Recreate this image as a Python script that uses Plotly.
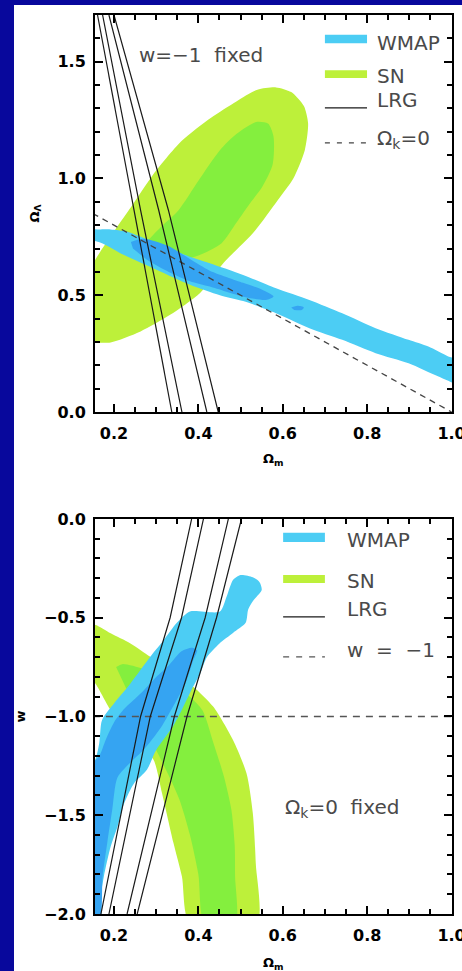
import plotly.graph_objects as go

# ---------------- top panel: Omega_m vs Omega_Lambda, w = -1 fixed ----------------
SN_OUT_TOP_OM = [0.14, 0.16, 0.192, 0.263, 0.333, 0.404, 0.459, 0.529, 0.588, 0.625, 0.652,
                 0.66, 0.65, 0.62, 0.584, 0.54, 0.49, 0.43, 0.36, 0.29, 0.245, 0.21, 0.18, 0.155, 0.14]
SN_OUT_TOP_OL = [0.33, 0.30, 0.298, 0.345, 0.416, 0.510, 0.637, 0.765, 0.907, 1.0, 1.12,
                 1.235, 1.31, 1.37, 1.39, 1.38, 1.33, 1.26, 1.16, 1.01, 0.89, 0.80, 0.72, 0.65, 0.59]

SN_IN_TOP_OM = [0.265, 0.275, 0.31, 0.353, 0.40, 0.451, 0.49, 0.537, 0.565, 0.578, 0.576,
                0.55, 0.525, 0.49, 0.455, 0.40, 0.33, 0.28]
SN_IN_TOP_OL = [0.66, 0.72, 0.79, 0.864, 0.99, 1.121, 1.19, 1.242, 1.235, 1.18, 1.06,
                0.96, 0.90, 0.81, 0.723, 0.67, 0.64, 0.64]

WMAP_OUT_TOP_OM = [0.14, 0.165, 0.192, 0.231, 0.302, 0.380, 0.427, 0.506, 0.584, 0.663, 0.741,
                   0.820, 0.898, 0.945, 0.992, 1.02,
                   1.02, 0.969, 0.898, 0.820, 0.741, 0.663, 0.584, 0.506, 0.451, 0.380,
                   0.302, 0.224, 0.173, 0.14]
WMAP_OUT_TOP_OL = [0.785, 0.782, 0.782, 0.772, 0.722, 0.665, 0.637, 0.587, 0.530, 0.480, 0.423,
                   0.359, 0.309, 0.280, 0.238, 0.22,
                   0.12, 0.152, 0.209, 0.252, 0.309, 0.359, 0.423, 0.475, 0.500, 0.545,
                   0.608, 0.672, 0.722, 0.74]

WMAP_IN_TOP_OM = [0.24, 0.27, 0.33, 0.38, 0.427, 0.506, 0.55, 0.578,
                  0.56, 0.506, 0.427, 0.38, 0.33, 0.28, 0.245]
WMAP_IN_TOP_OL = [0.728, 0.742, 0.71, 0.655, 0.605, 0.553, 0.525, 0.495,
                  0.48, 0.494, 0.537, 0.56, 0.60, 0.65, 0.70]

WMAP_SPOT_TOP_OM = [0.62, 0.635, 0.65, 0.645, 0.627]
WMAP_SPOT_TOP_OL = [0.447, 0.455, 0.448, 0.437, 0.437]

FLAT_TOP_OM = [0.15, 1.0]
FLAT_TOP_OL = [0.85, 0.0]

LRG_TOP_OL = [1.7, 0.864, 0.0]
LRG_TOP_OM = [
    [0.161, 0.247, 0.337],
    [0.173, 0.263, 0.361],
    [0.188, 0.306, 0.420],
    [0.200, 0.329, 0.447],
]

# ---------------- bottom panel: Omega_m vs w, flat universe ----------------
SN_OUT_BOT_OM = [0.14, 0.157, 0.192, 0.239, 0.286, 0.34, 0.388, 0.435, 0.482, 0.514, 0.529,
                 0.536, 0.538, 0.38, 0.361, 0.341, 0.314, 0.294, 0.265, 0.23, 0.192, 0.155, 0.14]
SN_OUT_BOT_W = [-0.53, -0.537, -0.579, -0.63, -0.697, -0.77, -0.849, -0.95, -1.119, -1.288, -1.49,
                -1.743, -2.05, -2.05, -1.81, -1.64, -1.39, -1.22, -1.15, -1.07, -0.967, -0.83, -0.80]

SN_IN_BOT_OM = [0.205, 0.22, 0.27, 0.33, 0.38, 0.41, 0.435, 0.46, 0.478, 0.486, 0.487, 0.487,
                0.415, 0.40, 0.38, 0.355, 0.33, 0.30, 0.26, 0.225]
SN_IN_BOT_W = [-0.75, -0.735, -0.76, -0.82, -0.90, -0.97, -1.13, -1.30, -1.47, -1.65, -1.81, -2.05,
               -2.05, -1.80, -1.60, -1.42, -1.30, -1.17, -1.00, -0.84]

WMAP_OUT_BOT_OM = [0.14, 0.163, 0.165, 0.176, 0.192, 0.208, 0.224, 0.247, 0.278, 0.30, 0.34, 0.36,
                   0.385, 0.405, 0.42, 0.45, 0.482, 0.512, 0.518, 0.529, 0.55, 0.545, 0.529, 0.50,
                   0.482, 0.467, 0.451, 0.38, 0.349, 0.318, 0.286, 0.239, 0.20, 0.176, 0.17,
                   0.165, 0.155, 0.14]
WMAP_OUT_BOT_W = [-2.05, -2.05, -1.96, -1.81, -1.66, -1.56, -1.44, -1.34, -1.27, -1.17, -1.05, -0.97,
                  -0.86, -0.78, -0.70, -0.63, -0.577, -0.526, -0.458, -0.416, -0.36, -0.32, -0.295, -0.284,
                  -0.309, -0.393, -0.469, -0.469, -0.526, -0.613, -0.698, -0.833, -0.934, -1.0, -1.03,
                  -1.135, -1.22, -1.25]

WMAP_IN_BOT_OM = [0.14, 0.165, 0.173, 0.184, 0.196, 0.208, 0.24, 0.27, 0.31, 0.345, 0.37, 0.387,
                  0.397, 0.385, 0.36, 0.33, 0.30, 0.265, 0.225, 0.20, 0.18, 0.165, 0.14]
WMAP_IN_BOT_W = [-2.05, -2.05, -1.81, -1.64, -1.47, -1.31, -1.23, -1.17, -1.06, -0.93, -0.83, -0.72,
                 -0.665, -0.652, -0.67, -0.74, -0.80, -0.88, -0.96, -1.03, -1.12, -1.20, -1.25]

LAMBDA_BOT_OM = [0.15, 1.0]
LAMBDA_BOT_W = [-1.0, -1.0]

LRG_BOT_W = [-2.0, -1.0, -0.5, 0.0]
LRG_BOT_OM = [
    [0.169, 0.263, 0.333, 0.384],
    [0.188, 0.286, 0.360, 0.412],
    [0.231, 0.343, 0.416, 0.471],
    [0.255, 0.373, 0.443, 0.502],
]

X_TICKS = [0.2, 0.4, 0.6, 0.8, 1.0]
TOP_Y_TICKS = [0.0, 0.5, 1.0, 1.5]
BOT_Y_TICKS = [-2.0, -1.5, -1.0, -0.5, 0.0]

# colours
WMAP_LIGHT = "#4ccdf4"
WMAP_DARK = "#35a4f2"
SN_LIGHT = "#bdf03a"
SN_DARK = "#84ef3e"
NAVY = "#08089c"
TEXT_GREY = "#4a4a4a"


def region(xs, ys, color, xa, ya):
    return go.Scatter(x=xs, y=ys, mode="lines", fill="toself", fillcolor=color,
                      line=dict(width=0, shape="spline", smoothing=0.7, color=color),
                      hoverinfo="skip", showlegend=False, xaxis=xa, yaxis=ya)


def curve(xs, ys, xa, ya, dash="solid", color="#1a1a1a", width=1.2):
    return go.Scatter(x=xs, y=ys, mode="lines",
                      line=dict(width=width, color=color, dash=dash),
                      hoverinfo="skip", showlegend=False, xaxis=xa, yaxis=ya)


fig = go.Figure()

# top panel
fig.add_trace(region(SN_OUT_TOP_OM, SN_OUT_TOP_OL, SN_LIGHT, "x", "y"))
fig.add_trace(region(SN_IN_TOP_OM, SN_IN_TOP_OL, SN_DARK, "x", "y"))
fig.add_trace(region(WMAP_OUT_TOP_OM, WMAP_OUT_TOP_OL, WMAP_LIGHT, "x", "y"))
fig.add_trace(region(WMAP_IN_TOP_OM, WMAP_IN_TOP_OL, WMAP_DARK, "x", "y"))
fig.add_trace(region(WMAP_SPOT_TOP_OM, WMAP_SPOT_TOP_OL, WMAP_DARK, "x", "y"))
fig.add_trace(curve(FLAT_TOP_OM, FLAT_TOP_OL, "x", "y", dash="6px,5px", color="#444444", width=1.3))
for xs in LRG_TOP_OM:
    fig.add_trace(curve(xs, LRG_TOP_OL, "x", "y"))

# bottom panel
fig.add_trace(region(SN_OUT_BOT_OM, SN_OUT_BOT_W, SN_LIGHT, "x2", "y2"))
fig.add_trace(region(SN_IN_BOT_OM, SN_IN_BOT_W, SN_DARK, "x2", "y2"))
fig.add_trace(region(WMAP_OUT_BOT_OM, WMAP_OUT_BOT_W, WMAP_LIGHT, "x2", "y2"))
fig.add_trace(region(WMAP_IN_BOT_OM, WMAP_IN_BOT_W, WMAP_DARK, "x2", "y2"))
fig.add_trace(curve(LAMBDA_BOT_OM, LAMBDA_BOT_W, "x2", "y2", dash="7px,6px", color="#555555", width=1.3))
for xs in LRG_BOT_OM:
    fig.add_trace(curve(xs, LRG_BOT_W, "x2", "y2"))

tick_font = dict(family="DejaVu Sans", size=16, color="black", weight="bold")
axis_common = dict(
    showline=True, linewidth=2, linecolor="black", mirror="allticks",
    ticks="inside", ticklen=8, tickwidth=2, tickcolor="black",
    showgrid=False, zeroline=False, tickfont=tick_font, tickformat=".1f",
    ticklabeloverflow="allow",
)
x_common = dict(axis_common, range=[0.155, 1.001], tickvals=X_TICKS,
                minor=dict(dtick=0.05, tick0=0, ticks="inside", ticklen=5, tickwidth=1.5,
                           tickcolor="black", showgrid=False),
                ticklabelstandoff=6)
y_minor = dict(dtick=0.1, tick0=0, ticks="inside", ticklen=5, tickwidth=1.5,
               tickcolor="black", showgrid=False)

fig.update_layout(
    width=462, height=971,
    margin=dict(l=95, r=10, t=15, b=57, autoexpand=False),
    paper_bgcolor="white", plot_bgcolor="white",
    showlegend=False,
    xaxis=dict(x_common, anchor="y", domain=[0, 1]),
    yaxis=dict(axis_common, anchor="x", domain=[0.5584, 1], range=[0, 1.7],
               tickvals=TOP_Y_TICKS, minor=y_minor, ticklabelstandoff=4),
    xaxis2=dict(x_common, anchor="y2", domain=[0, 1]),
    yaxis2=dict(axis_common, anchor="x2", domain=[0, 0.4394], range=[-2, 0],
                tickvals=BOT_Y_TICKS, minor=y_minor, ticklabelstandoff=4),
)

# frame of the slide: navy strips on the left and top
shapes = [
    dict(type="rect", xref="paper", yref="paper", x0=-0.30, x1=-0.2269, y0=-0.1, y1=1.1,
         fillcolor=NAVY, line=dict(width=0), layer="above"),
    dict(type="rect", xref="paper", yref="paper", x0=-0.30, x1=1.1, y0=1.0111, y1=1.1,
         fillcolor=NAVY, line=dict(width=0), layer="above"),
]


# hand-drawn keys
def key_bar(xr, yr, x0, x1, y0, y1, color):
    return dict(type="rect", xref=xr, yref=yr, x0=x0, x1=x1, y0=y0, y1=y1,
                fillcolor=color, line=dict(width=0), layer="above")


def key_line(xr, yr, x0, x1, y, dash, color):
    return dict(type="line", xref=xr, yref=yr, x0=x0, x1=x1, y0=y, y1=y,
                line=dict(color=color, width=1.3, dash=dash), layer="above")


shapes += [
    key_bar("x domain", "y domain", 0.644, 0.762, 0.929, 0.950, WMAP_LIGHT),
    key_bar("x domain", "y domain", 0.644, 0.762, 0.841, 0.861, SN_LIGHT),
    key_line("x domain", "y domain", 0.644, 0.762, 0.766, "solid", "#1a1a1a"),
    key_line("x domain", "y domain", 0.644, 0.762, 0.678, "5px,7px", "#444444"),
    key_bar("x2 domain", "y2 domain", 0.527, 0.644, 0.942, 0.965, WMAP_LIGHT),
    key_bar("x2 domain", "y2 domain", 0.527, 0.644, 0.838, 0.858, SN_LIGHT),
    key_line("x2 domain", "y2 domain", 0.527, 0.644, 0.752, "solid", "#1a1a1a"),
    key_line("x2 domain", "y2 domain", 0.527, 0.644, 0.651, "6px,7px", "#555555"),
]
fig.update_layout(shapes=shapes)

label_font = dict(family="DejaVu Sans", size=20, color=TEXT_GREY)
title_font = dict(family="DejaVu Sans", size=13, color="black", weight="bold")


def note(text, xr, yr, x, y, font, xanchor="left", **kw):
    fig.add_annotation(text=text, xref=xr, yref=yr, x=x, y=y, showarrow=False,
                       xanchor=xanchor, yanchor="middle", font=font, **kw)


# top panel keys and caption
note("WMAP", "x domain", "y domain", 0.784, 0.929, label_font)
note("SN", "x domain", "y domain", 0.784, 0.847, label_font)
note("LRG", "x domain", "y domain", 0.784, 0.787, label_font)
note("Ω<sub>k</sub>=0", "x domain", "y domain", 0.784, 0.688, label_font)
note("w=−1  fixed", "x domain", "y domain", 0.118, 0.899, label_font)

# bottom panel keys and caption
note("WMAP", "x2 domain", "y2 domain", 0.700, 0.947, label_font)
note("SN", "x2 domain", "y2 domain", 0.700, 0.843, label_font)
note("LRG", "x2 domain", "y2 domain", 0.700, 0.772, label_font)
note("w  =  −1", "x2 domain", "y2 domain", 0.700, 0.668, label_font)
note("Ω<sub>k</sub>=0  fixed", "x2 domain", "y2 domain", 0.527, 0.268, label_font)

# axis titles
note("Ω<sub>m</sub>", "x domain", "y domain", 0.5, 0, title_font, xanchor="center", yshift=-48)
note("Ω<sub>m</sub>", "x2 domain", "y2 domain", 0.5, 0, title_font, xanchor="center", yshift=-49)
note("Ω<sub>Λ</sub>", "x domain", "y domain", 0, 0.5, title_font, xanchor="center",
     xshift=-60, textangle=-90)
note("w", "x2 domain", "y2 domain", 0, 0.5, title_font, xanchor="center",
     xshift=-75, textangle=-90)

fig.write_html("out.html")
